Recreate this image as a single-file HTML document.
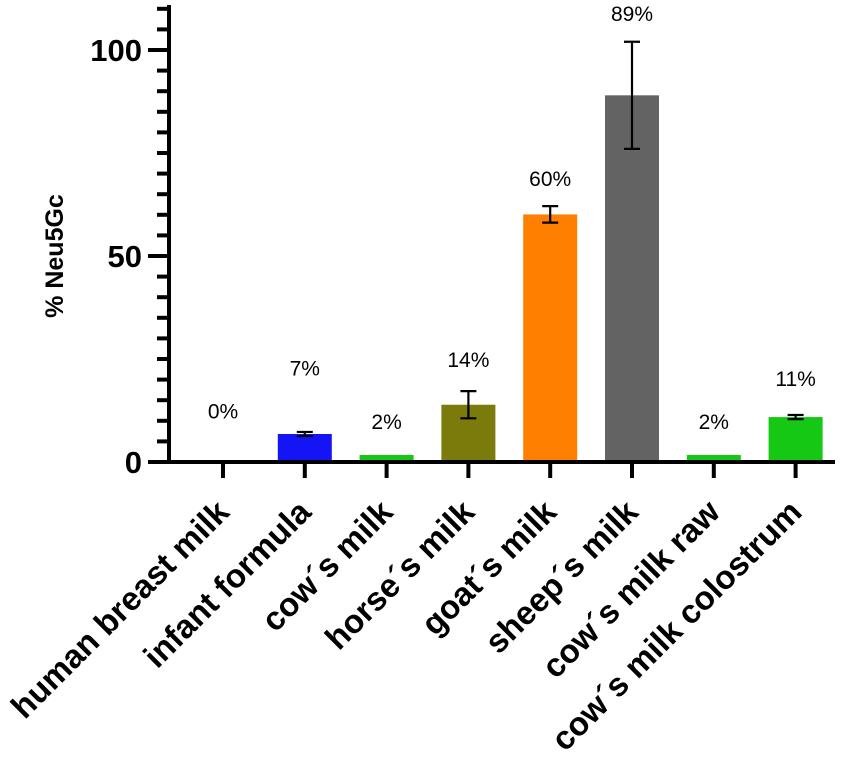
<!DOCTYPE html>
<html><head><meta charset="utf-8"><style>
body{margin:0;background:#fff}
svg{display:block;font-family:"Liberation Sans",Arial,sans-serif}
</style></head><body>
<svg id="c" width="854" height="771"></svg>
<script>
const categories=["human breast milk","infant formula","cow´s milk","horse´s milk","goat´s milk","sheep´s milk","cow´s milk raw","cow´s milk colostrum"];
const values=[0,6.8,1.7,13.9,60.1,89,1.7,10.9];
const errors=[0,0.5,0,3.3,2,13,0,0.5];
const pctLabels=["0%","7%","2%","14%","60%","89%","2%","11%"];
const labelHeights=[10.5,21,8,23,67,107,8,18.5];
const colors=["#ffffff","#1414f5","#14c814","#7b7b0c","#ff8000","#636363","#14c814","#14c814"];
const yTicks=[0,50,100];
const NS="http://www.w3.org/2000/svg";
const svg=document.getElementById('c');
function y(v){return 462-v*4.12;}
function x(i){return 223+i*81.8;}
function el(t,a,p){const e=document.createElementNS(NS,t);for(const k in a)e.setAttribute(k,a[k]);(p||svg).appendChild(e);return e;}
const bw=54;
categories.forEach((c,i)=>{
  const g=el('g',{});
  
  
  if(values[i]>0){
    const r=el('rect',{x:x(i)-bw/2,y:y(values[i]),width:bw,height:462-y(values[i]),fill:colors[i]},g);
    
    
  }
  if(errors[i]>0){
    const hi=y(values[i]+errors[i]),lo=y(values[i]-errors[i]);
    const e=el('path',{d:`M${x(i)} ${hi}V${lo}M${x(i)-8} ${hi}H${x(i)+8}M${x(i)-8} ${lo}H${x(i)+8}`,stroke:'#000','stroke-width':2.2,fill:'none'},g);
    
    
  }
  const t=el('text',{x:x(i),y:y(labelHeights[i]),'text-anchor':'middle','font-size':21},g);
  t.textContent=pctLabels[i];
  
  
  el('line',{x1:x(i),x2:x(i),y1:462,y2:478,stroke:'#000','stroke-width':4},g);
  const cl=el('text',{transform:`translate(${x(i)+8},${514}) rotate(-45)`,'text-anchor':'end','font-size':33,'font-weight':'bold'},g);
  cl.textContent=c;
  
  
});
const ax=el('path',{d:'M169 5V462M148 462H835',stroke:'#000','stroke-width':4,fill:'none'});


for(let v=0;v<=110;v+=5){
  const major=yTicks.includes(v);
  el('line',{x1:major?148:157,x2:169,y1:y(v),y2:y(v),stroke:'#000','stroke-width':4});
}
yTicks.forEach(v=>{
  const t=el('text',{x:142,y:y(v)+11,'text-anchor':'end','font-size':31,'font-weight':'bold'});
  t.textContent=v;
  
  
});
const yt=el('text',{transform:'translate(63,256) rotate(-90)','text-anchor':'middle','font-size':25,'font-weight':'bold'});
yt.textContent='% Neu5Gc';


</script>
</body></html>
